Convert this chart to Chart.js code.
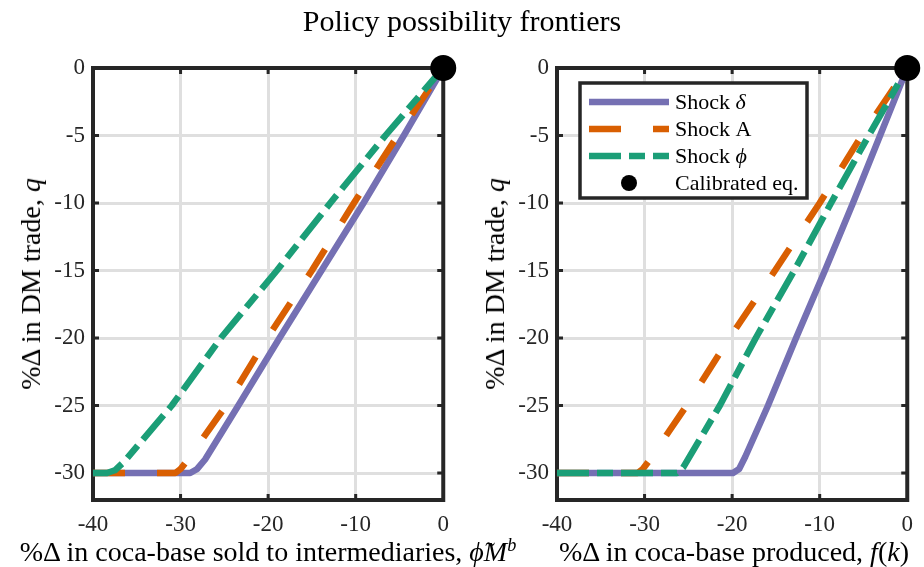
<!DOCTYPE html>
<html>
<head>
<meta charset="utf-8">
<script src="https://cdn.jsdelivr.net/npm/chart.js@4.4.1/dist/chart.umd.min.js"></script>
<style>
  html, body { margin:0; padding:0; background:#fff; }
  #wrap { position:relative; width:924px; height:567px; overflow:hidden; font-family:"Liberation Serif", serif; color:#000; }
  canvas { position:absolute; top:0; }
  .lbl { position:absolute; white-space:nowrap; font-family:"Liberation Serif", serif; color:#000; pointer-events:none; }
  sup { font-size:0.65em; vertical-align:0.55em; line-height:0; }
</style>
</head>
<body>
<div id="wrap">
  <canvas id="c1" width="460" height="567" style="left:0;width:460px;height:567px"></canvas>
  <canvas id="c2" width="464" height="567" style="left:460px;width:464px;height:567px"></canvas>
  <div class="lbl" id="title" style="left:462px;top:21px;transform:translate(-50%,-50%);font-size:30px;">Policy possibility frontiers</div>
  <div class="lbl" style="left:31px;top:284px;transform:translate(-50%,-50%) rotate(-90deg);font-size:28px;">%Δ in DM trade, <i>q</i></div>
  <div class="lbl" style="left:495px;top:284px;transform:translate(-50%,-50%) rotate(-90deg);font-size:28px;">%Δ in DM trade, <i>q</i></div>
  <div class="lbl" style="left:268px;top:552px;transform:translate(-50%,-50%);font-size:28px;">%Δ in coca-base sold to intermediaries, <i>ϕ̃M</i><sup><i>b</i></sup></div>
  <div class="lbl" style="left:734px;top:552px;transform:translate(-50%,-50%);font-size:28px;">%Δ in coca-base produced, <i>f</i>(<i>k</i>)</div>
</div>
<script>
// ---------- data ----------
const xTicks = [-40, -30, -20, -10, 0];
const yTicks = [0, -5, -10, -15, -20, -25, -30];
const seriesNames = ['Shock δ', 'Shock A', 'Shock ϕ', 'Calibrated eq.'];

// Left panel: coca-base sold to intermediaries
const leftDeltaX = [-40, -28.9, -28.1, -27.2, -23.4, -18.7, -13.9, -9.1, -4.5, 0];
const leftDeltaY = [-30, -30, -29.7, -29.0, -25, -20, -15, -10, -5, 0];
const leftAX = [-40, -30.6, -30.0, -29.4, -24.8, -20.1, -15.0, -10.2, -5.2, 0];
const leftAY = [-30, -30, -29.7, -29.2, -25, -20, -15, -10, -5, 0];
const leftPhiX = [-40, -38.4, -37.5, -36.5, -31.0, -25.4, -19.0, -12.9, -6.6, 0];
const leftPhiY = [-30, -30, -29.8, -29.2, -25, -20, -15, -10, -5, 0];

// Right panel: coca-base produced
const rightDeltaX = [-40, -19.9, -19.2, -18.5, -15.9, -12.7, -9.4, -6.2, -3.1, 0];
const rightDeltaY = [-30, -30, -29.7, -28.8, -25, -20, -15, -10, -5, 0];
const rightAX = [-40, -30.8, -30.2, -29.5, -25.2, -20.3, -15.1, -10.0, -5.2, 0];
const rightAY = [-30, -30, -29.7, -29.1, -25, -20, -15, -10, -5, 0];
const rightPhiX = [-40, -26.3, -25.6, -21.4, -17.3, -12.9, -8.7, -4.4, 0];
const rightPhiY = [-30, -30, -29.6, -25, -20, -15, -10, -5, 0];

const calibX = [0];
const calibY = [0];

// ---------- helpers ----------
const FONT = '"Liberation Serif", serif';
const INK = '#262626';
const zip = (xs, ys) => xs.map((x, i) => ({x: x, y: ys[i]}));

const framePlugin = {
  id: 'frame',
  beforeDatasetsDraw(chart) {
    const {ctx, chartArea: a, scales} = chart;
    ctx.save();
    ctx.strokeStyle = INK;
    ctx.lineWidth = 3;
    const tl = 6;
    scales.x.ticks.forEach(t => {
      const p = scales.x.getPixelForValue(t.value);
      if (Math.abs(p - a.left) < 2 || Math.abs(p - a.right) < 2) return;
      ctx.beginPath();
      ctx.moveTo(p, a.bottom); ctx.lineTo(p, a.bottom - tl);
      ctx.moveTo(p, a.top); ctx.lineTo(p, a.top + tl);
      ctx.stroke();
    });
    scales.y.ticks.forEach(t => {
      const p = scales.y.getPixelForValue(t.value);
      if (Math.abs(p - a.top) < 2 || Math.abs(p - a.bottom) < 2) return;
      ctx.beginPath();
      ctx.moveTo(a.left, p); ctx.lineTo(a.left + tl, p);
      ctx.moveTo(a.right, p); ctx.lineTo(a.right - tl, p);
      ctx.stroke();
    });
    ctx.lineWidth = 4;
    ctx.strokeRect(a.left, a.top, a.right - a.left, a.bottom - a.top);
    ctx.restore();
  }
};

const legendPlugin = {
  id: 'boxLegend',
  afterDatasetsDraw(chart, args, opts) {
    if (!opts || !opts.show) return;
    const {ctx, chartArea: a} = chart;
    const bx = a.left + 23, by = a.top + 15, bw = 227, bh = 115;
    ctx.save();
    ctx.fillStyle = '#fff';
    ctx.fillRect(bx, by, bw, bh);
    ctx.strokeStyle = INK;
    ctx.lineWidth = 3.5;
    ctx.strokeRect(bx, by, bw, bh);
    chart.data.datasets.forEach((ds, i) => {
      const cy = by + 19 + i * 27;
      const x1 = bx + 9, x2 = bx + 89;
      if (ds.showLine === false) {
        ctx.beginPath();
        ctx.fillStyle = ds.pointBackgroundColor;
        ctx.arc((x1 + x2) / 2, cy, 8, 0, Math.PI * 2);
        ctx.fill();
      } else {
        ctx.beginPath();
        ctx.strokeStyle = ds.borderColor;
        ctx.lineWidth = ds.borderWidth;
        ctx.setLineDash(ds.borderDash || []);
        ctx.lineCap = 'butt';
        ctx.moveTo(x1, cy); ctx.lineTo(x2, cy);
        ctx.stroke();
        ctx.setLineDash([]);
      }
      // label: trailing Greek letter drawn in italic
      const label = ds.label;
      const m = label.match(/^(.*?)([\u0370-\u03FF])$/);
      ctx.fillStyle = '#000';
      ctx.textBaseline = 'middle';
      ctx.textAlign = 'left';
      let tx = bx + 95;
      if (m) {
        ctx.font = '22px ' + FONT;
        ctx.fillText(m[1], tx, cy + 1);
        tx += ctx.measureText(m[1]).width;
        ctx.font = 'italic 22px ' + FONT;
        ctx.fillText(m[2], tx, cy + 1);
      } else {
        ctx.font = '22px ' + FONT;
        ctx.fillText(label, tx, cy + 1);
      }
    });
    ctx.restore();
  }
};

function makePanel(canvasId, deltaX, deltaY, aX, aY, phiX, phiY, yAxisWidth, padRight, showLegend) {
  const lineBase = {pointRadius: 0, borderWidth: 6.5, fill: false, tension: 0, borderJoinStyle: 'round', borderCapStyle: 'butt'};
  const datasets = [
    Object.assign({label: seriesNames[0], data: zip(deltaX, deltaY), borderColor: '#7570b3', borderDash: [], order: 4}, lineBase),
    Object.assign({label: seriesNames[1], data: zip(aX, aY), borderColor: '#d95f02', borderDash: [32, 32], order: 3}, lineBase),
    Object.assign({label: seriesNames[2], data: zip(phiX, phiY), borderColor: '#1b9e77', borderDash: [32, 8, 16, 8], order: 2}, lineBase),
    {label: seriesNames[3], data: zip(calibX, calibY), showLine: false, pointRadius: 13, pointHoverRadius: 13,
     pointBackgroundColor: '#000', pointBorderColor: '#000', pointBorderWidth: 0, borderColor: '#000', clip: false, order: 1}
  ];
  return new Chart(document.getElementById(canvasId), {
    type: 'line',
    data: {datasets: datasets},
    plugins: [framePlugin, legendPlugin],
    options: {
      responsive: false,
      animation: false,
      devicePixelRatio: 1,
      layout: {padding: {top: 68, right: padRight, left: 0, bottom: 0}},
      plugins: {
        legend: {display: false},
        tooltip: {enabled: false},
        title: {display: false},
        boxLegend: {show: showLegend}
      },
      scales: {
        x: {
          type: 'linear', min: -40, max: 0,
          afterBuildTicks: s => { s.ticks = xTicks.map(v => ({value: v})); },
          afterFit: s => { s.height = 67; },
          ticks: {font: {family: FONT, size: 23}, color: INK, padding: 11, maxRotation: 0, callback: v => String(v)},
          grid: {color: '#dfdfdf', lineWidth: 3, drawTicks: false},
          border: {display: false}
        },
        y: {
          type: 'linear', min: -32, max: 0,
          afterBuildTicks: s => { s.ticks = yTicks.map(v => ({value: v})); },
          afterFit: s => { s.width = yAxisWidth; },
          ticks: {font: {family: FONT, size: 23}, color: INK, padding: 8, callback: v => String(v)},
          grid: {color: '#dfdfdf', lineWidth: 3, drawTicks: false},
          border: {display: false}
        }
      }
    }
  });
}

makePanel('c1', leftDeltaX, leftDeltaY, leftAX, leftAY, leftPhiX, leftPhiY, 93, 16, false);
makePanel('c2', rightDeltaX, rightDeltaY, rightAX, rightAY, rightPhiX, rightPhiY, 97, 13, true);
</script>
</body>
</html>
